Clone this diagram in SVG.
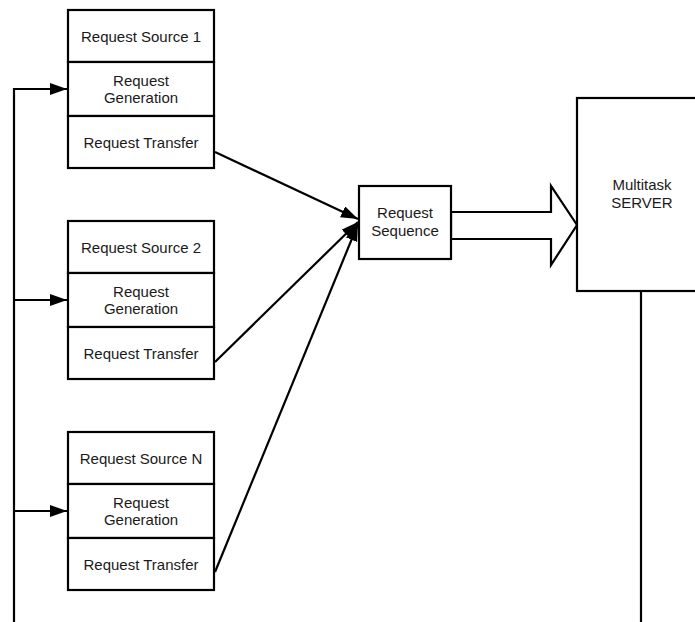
<svg xmlns="http://www.w3.org/2000/svg" width="695" height="622" viewBox="0 0 695 622">
  <style>
    .box { fill: #ffffff; stroke: #000000; stroke-width: 2.2; }
    .ln { fill: none; stroke: #000000; stroke-width: 2.2; }
    .t { font-family: "Liberation Sans", Arial, sans-serif; font-size: 15px; fill: #1a1a1a; text-anchor: middle; }
  </style>
  <defs>
    <marker id="ah" markerUnits="userSpaceOnUse" markerWidth="19" markerHeight="14" refX="17" refY="6" orient="auto">
      <path d="M0,0 L17,6 L0,12 Z" fill="#000000"/>
    </marker>
  </defs>
  <rect width="695" height="622" fill="#ffffff"/>

  <g id="connectors">
    <polyline class="ln" points="14,622 14,89 67,89" marker-end="url(#ah)"/>
    <line class="ln" x1="14" y1="300" x2="67" y2="300" marker-end="url(#ah)"/>
    <line class="ln" x1="14" y1="511" x2="67" y2="511" marker-end="url(#ah)"/>
    <line class="ln" x1="215" y1="152" x2="358" y2="219" marker-end="url(#ah)"/>
    <line class="ln" x1="215" y1="362" x2="358" y2="222" marker-end="url(#ah)"/>
    <line class="ln" x1="215" y1="572" x2="358" y2="224" marker-end="url(#ah)"/>
    <polygon class="box" points="451,212 551,212 551,186 577,225 551,265 551,239 451,239"/>
    <line class="ln" x1="641" y1="291" x2="641" y2="622"/>
  </g>

  <g id="source1">
    <rect class="box" x="68" y="10" width="146" height="52"/>
    <rect class="box" x="68" y="62" width="146" height="54"/>
    <rect class="box" x="68" y="116" width="146" height="52"/>
    <text class="t" x="141" y="41.5">Request Source 1</text>
    <text class="t" x="141" y="85.5">Request</text>
    <text class="t" x="141" y="103">Generation</text>
    <text class="t" x="141" y="147.5">Request Transfer</text>
  </g>

  <g id="source2">
    <rect class="box" x="68" y="221" width="146" height="52"/>
    <rect class="box" x="68" y="273" width="146" height="54"/>
    <rect class="box" x="68" y="327" width="146" height="52"/>
    <text class="t" x="141" y="252.5">Request Source 2</text>
    <text class="t" x="141" y="296.5">Request</text>
    <text class="t" x="141" y="314">Generation</text>
    <text class="t" x="141" y="358.5">Request Transfer</text>
  </g>

  <g id="sourceN">
    <rect class="box" x="68" y="432" width="146" height="52"/>
    <rect class="box" x="68" y="484" width="146" height="54"/>
    <rect class="box" x="68" y="538" width="146" height="52"/>
    <text class="t" x="141" y="463.5">Request Source N</text>
    <text class="t" x="141" y="507.5">Request</text>
    <text class="t" x="141" y="525">Generation</text>
    <text class="t" x="141" y="569.5">Request Transfer</text>
  </g>

  <g id="sequence">
    <rect class="box" x="359" y="186" width="92" height="73"/>
    <text class="t" x="405" y="218">Request</text>
    <text class="t" x="405" y="236">Sequence</text>
  </g>

  <g id="server">
    <rect class="box" x="577" y="98" width="130" height="193"/>
    <text class="t" x="642" y="190">Multitask</text>
    <text class="t" x="642" y="208">SERVER</text>
  </g>
</svg>
